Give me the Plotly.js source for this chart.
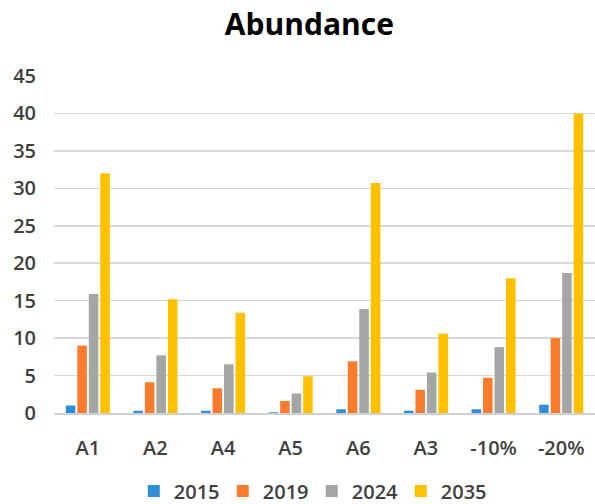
<!DOCTYPE html>
<html>
<head>
<meta charset="utf-8">
<script src="https://cdn.plot.ly/plotly-3.0.1.min.js"></script>
<style>
  html, body { margin: 0; padding: 0; background: #fff; }
  #chart { width: 595px; height: 504px; }
</style>
</head>
<body>
<div id="chart"></div>
<script>
// Scenario categories along the x axis
const categories = ['A1', 'A2', 'A4', 'A5', 'A6', 'A3', '-10%', '-20%'];

// Abundance per scenario for each year
const values2015 = [1.0, 0.3, 0.3, 0.1, 0.5, 0.3, 0.5, 1.1];
const values2019 = [9.0, 4.1, 3.3, 1.6, 6.9, 3.1, 4.7, 10.0];
const values2024 = [15.9, 7.7, 6.5, 2.6, 13.9, 5.4, 8.8, 18.7];
const values2035 = [32.0, 15.2, 13.4, 4.9, 30.7, 10.6, 18.0, 40.0];

const seriesNames = ['2015', '2019', '2024', '2035'];
const seriesColors = ['#2E8FD8', '#FA7B2C', '#A5A5A5', '#FFC000'];
const yTicks = [0, 5, 10, 15, 20, 25, 30, 35, 40, 45];

const allValues = [values2015, values2019, values2024, values2035];
const traces = allValues.map((vals, i) => ({
  type: 'bar',
  name: seriesNames[i],
  x: categories,
  y: vals,
  marker: { color: seriesColors[i] },
  hoverinfo: 'x+y+name'
}));

const fontFamily = '"Open Sans", "Liberation Sans", sans-serif';

const layout = {
  width: 595,
  height: 504,
  margin: { l: 54, r: 0, t: 76, b: 91 },
  paper_bgcolor: '#ffffff',
  plot_bgcolor: '#ffffff',
  barmode: 'group',
  bargap: 0.32,
  bargroupgap: 0.17,
  title: {
    text: '<b>Abundance</b>',
    font: { family: fontFamily, size: 30, color: '#000000' },
    x: 0.52,
    xref: 'container',
    xanchor: 'center',
    y: 0.952,
    yref: 'container',
    yanchor: 'middle'
  },
  xaxis: {
    type: 'category',
    showgrid: false,
    showline: true,
    linecolor: '#D0D0D0',
    linewidth: 1.5,
    ticks: '',
    ticklabelstandoff: 16,
    tickfont: { family: fontFamily, size: 20, color: '#404040', weight: 600 }
  },
  yaxis: {
    range: [0, 45],
    tickvals: yTicks,
    ticktext: yTicks.map(String),
    showgrid: true,
    gridcolor: '#D9D9D9',
    gridwidth: 1.5,
    zeroline: false,
    showline: false,
    ticks: '',
    ticklabelstandoff: 17,
    tickfont: { family: fontFamily, size: 20, color: '#404040', weight: 600 }
  },
  showlegend: true,
  legend: {
    orientation: 'h',
    xref: 'container',
    yref: 'container',
    x: 0.524,
    xanchor: 'center',
    y: 0.026,
    yanchor: 'middle',
    itemwidth: 30,
    entrywidth: 44,
    entrywidthmode: 'pixels',
    font: { family: fontFamily, size: 20, color: '#404040', weight: 600 },
    bgcolor: 'rgba(0,0,0,0)'
  }
};

Plotly.newPlot('chart', traces, layout, { displayModeBar: false, staticPlot: true });
</script>
</body>
</html>
